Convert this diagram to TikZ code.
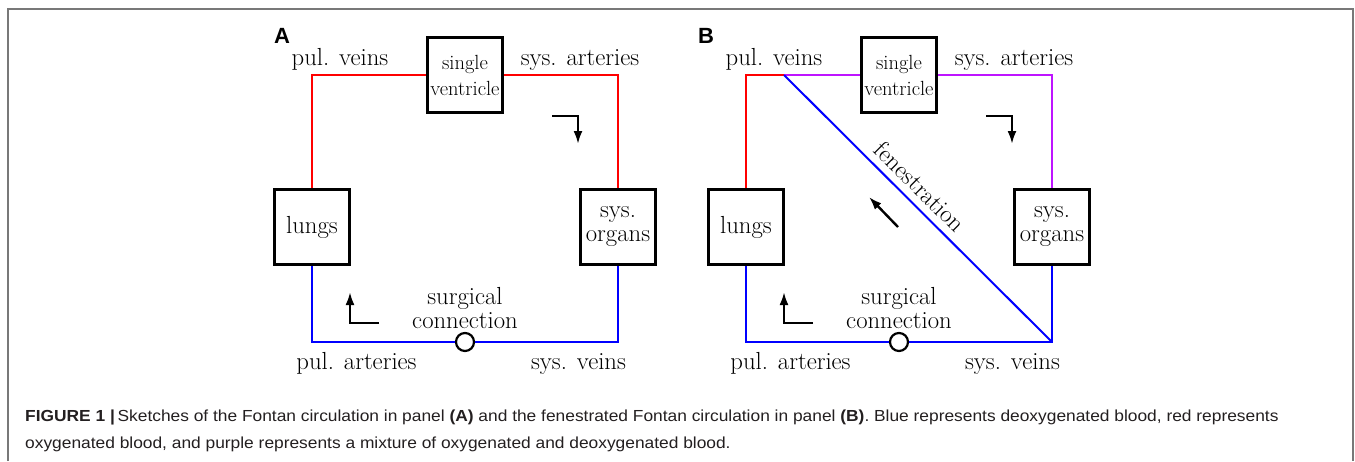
\documentclass[tikz,border=0pt]{standalone}
\usepackage{fontspec}
\newfontfamily\capfont[FakeStretch=1.085]{Liberation Sans}
\newfontfamily\panelfont{Liberation Sans}
\usetikzlibrary{arrows.meta}
\definecolor{purp}{RGB}{190,20,255}
\definecolor{framegray}{RGB}{120,120,120}
\definecolor{capgray}{RGB}{35,31,32}
\begin{document}
\begin{tikzpicture}[x=1pt,y=-1pt,
  organ/.style={draw, line width=2.7pt, minimum width=75pt, minimum height=75pt, inner sep=0pt, align=center, font=\fontsize{24.7}{24}\selectfont},
  svbox/.style={organ, font=\fontsize{20.5}{26}\selectfont},
  valve/.style={draw, circle, line width=2.2pt, fill=white, minimum size=18pt, inner sep=0pt},
  lbl/.style={font=\fontsize{24.7}{24}\selectfont, inner sep=0pt, anchor=base},
  vessel/.style={line width=2pt},
  flow/.style={line width=2.4pt, -{Latex[length=13pt,width=9pt]}},
  panel/.style={font=\panelfont\bfseries\fontsize{22}{22}\selectfont, inner sep=0pt, anchor=base west},
  captext/.style={font=\capfont\fontsize{16}{20}\selectfont, text=capgray, inner sep=0pt, anchor=base west}
]
\useasboundingbox (0,0) rectangle (1355,461);
\draw[framegray, line width=1.2pt] (8,461) -- (8,9) -- (1353,9) -- (1353,461);

% ---------- Panel A ----------
\node[panel] (labA) at (274,43) {A};
\node[svbox] (svA) at (465,75) {single\\ventricle};
\node[organ] (luA) at (312,227) {lungs};
\node[organ] (soA) at (618,227) {sys.\\organs};
\node[valve] (cA) at (465,342) {};
\draw[vessel, red] (luA.north) |- (svA.west);
\draw[vessel, red] (svA.east) -| (soA.north);
\draw[vessel, blue] (luA.south) |- (cA.west);
\draw[vessel, blue] (cA.east) -| (soA.south);
\node[lbl] (pvA) at (340,65) {pul. veins};
\node[lbl] (saA) at (580,65) {sys. arteries};
\node[lbl] (paA) at (356.5,369) {pul. arteries};
\node[lbl] (sveA) at (578.5,369) {sys. veins};
\node[lbl] (scA1) at (465,304) {surgical};
\node[lbl] (scA2) at (465,328) {connection};
\coordinate (fA1) at (552,116); \coordinate (fA2) at (578,116); \coordinate (fA3) at (578,144);
\draw[flow] (fA1) -- (fA2) -- (fA3);
\coordinate (gA1) at (379,323); \coordinate (gA2) at (350,323); \coordinate (gA3) at (350,292);
\draw[flow] (gA1) -- (gA2) -- (gA3);

% ---------- Panel B ----------
\node[panel] (labB) at (698,43) {B};
\node[svbox] (svB) at (899,75) {single\\ventricle};
\node[organ] (luB) at (746,227) {lungs};
\node[organ] (soB) at (1052,227) {sys.\\organs};
\node[valve] (cB) at (899,342) {};
\coordinate (jB) at (784,75);
\coordinate (kB) at (1052,342);
\draw[vessel, red] (luB.north) |- (jB);
\draw[vessel, purp] (jB) -- (svB.west);
\draw[vessel, purp] (svB.east) -| (soB.north);
\draw[vessel, blue] (luB.south) |- (cB.west);
\draw[vessel, blue] (cB.east) -- (kB) -- (soB.south);
\draw[vessel, blue] (jB) -- node[pos=0.463, above=7pt, sloped, text=black, font=\fontsize{24.7}{24}\selectfont, inner sep=0pt] (fenB) {fenestration} (kB);
\node[lbl] (pvB) at (774,65) {pul. veins};
\node[lbl] (saB) at (1014,65) {sys. arteries};
\node[lbl] (paB) at (790.5,369) {pul. arteries};
\node[lbl] (sveB) at (1012.5,369) {sys. veins};
\node[lbl] (scB1) at (899,304) {surgical};
\node[lbl] (scB2) at (899,328) {connection};
\coordinate (fB1) at (986,116); \coordinate (fB2) at (1012,116); \coordinate (fB3) at (1012,144);
\draw[flow] (fB1) -- (fB2) -- (fB3);
\coordinate (gB1) at (813,323); \coordinate (gB2) at (784,323); \coordinate (gB3) at (784,292);
\draw[flow] (gB1) -- (gB2) -- (gB3);
\coordinate (hB1) at (898,227); \coordinate (hB2) at (869,197);
\draw[flow] (hB1) -- (hB2);

% ---------- Caption ----------
\node[captext] (cap1) at (25,421) {\textbf{FIGURE 1 |}\,Sketches of the Fontan circulation in panel \textbf{(A)} and the fenestrated Fontan circulation in panel \textbf{(B)}. Blue represents deoxygenated blood, red represents};
\node[captext] (cap2) at (25,448) {oxygenated blood, and purple represents a mixture of oxygenated and deoxygenated blood.};
\end{tikzpicture}
\end{document}
